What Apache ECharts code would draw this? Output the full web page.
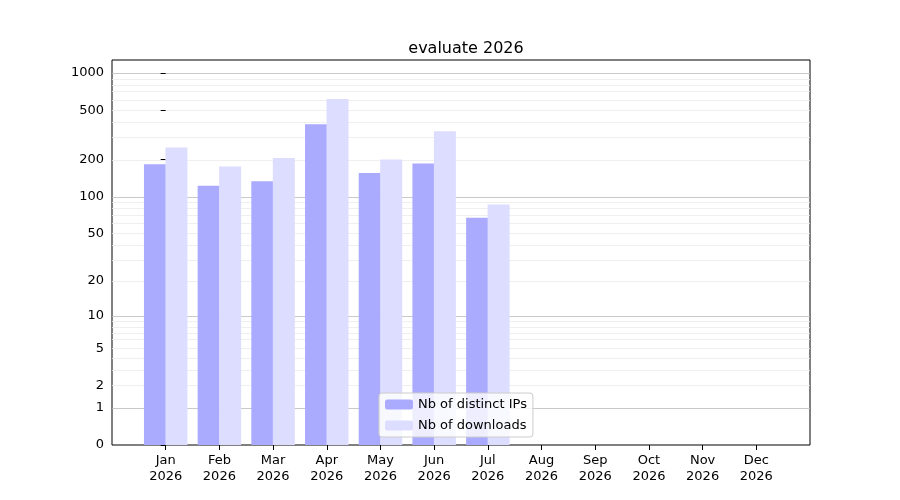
<!DOCTYPE html>
<html>
<head>
<meta charset="utf-8">
<title>evaluate 2026</title>
<script src="https://cdn.jsdelivr.net/npm/echarts@6/dist/echarts.min.js"></script>
</head>
<body style="margin:0">
<div id="main" style="width:900px;height:500px;"></div>
<script>
// data
var months = ['Jan', 'Feb', 'Mar', 'Apr', 'May', 'Jun', 'Jul', 'Aug', 'Sep', 'Oct', 'Nov', 'Dec'];
var year = '2026';
var distinctIps = [183, 122, 133, 385, 155, 185, 67];
var downloads = [250, 175, 205, 615, 200, 338, 86];
var yTicks = [0, 1, 2, 5, 10, 20, 50, 100, 200, 500, 1000];
var majorLines = [1, 10, 100, 1000];
var minorLines = [2, 3, 4, 5, 6, 7, 8, 9, 20, 30, 40, 50, 60, 70, 80, 90, 200, 300, 400, 500, 600, 700, 800, 900];

// y axis is log10(1 + v)
function tr(v) { return Math.log10(1 + v); }

var chart = echarts.init(document.getElementById('main'));

var grid = [];
majorLines.forEach(function (v) {
	grid.push({ yAxis: tr(v), lineStyle: { color: '#bbbbbb', width: 0.8, type: 'solid' } });
});
minorLines.forEach(function (v) {
	grid.push({ yAxis: tr(v), lineStyle: { color: '#ebebeb', width: 0.8, type: 'solid' } });
});

var option = {
	backgroundColor: '#fff',
	animation: false,
	title: {
		text: 'evaluate ' + year,
		left: 461, top: 36, textAlign: 'center',
		textStyle: { fontFamily: 'DejaVu Sans', fontSize: 16, fontWeight: 'normal', color: '#000' }
	},
	legend: {
		left: 379, top: 393, orient: 'vertical',
		itemWidth: 28, itemHeight: 10, itemGap: 8,
		padding: [5, 6, 5, 6],
		borderColor: '#cccccc', borderWidth: 1, borderRadius: 3,
		backgroundColor: 'rgba(255,255,255,0.8)',
		textStyle: { fontFamily: 'DejaVu Sans', fontSize: 13, color: '#000' }
	},
	grid: { left: 112, right: 90, top: 60, bottom: 55, show: true, borderColor: '#000', borderWidth: 1 },
	xAxis: {
		type: 'value', min: -1, max: 12, interval: 1,
		splitLine: { show: false },
		axisLine: { show: false },
		axisTick: { show: true, customValues: months.map(function (m, i) { return i; }), lineStyle: { color: '#000' } },
		axisLabel: {
			customValues: months.map(function (m, i) { return i; }),
			formatter: function (v) { return months[v] + '\n' + year; },
			fontFamily: 'DejaVu Sans', fontSize: 13, color: '#000', lineHeight: 16
		}
	},
	yAxis: {
		type: 'value', min: 0, max: 3.105,
		splitLine: { show: false },
		axisLine: { show: false },
		axisTick: { show: true, customValues: yTicks.map(tr), lineStyle: { color: '#000' } },
		axisLabel: {
			customValues: yTicks.map(tr),
			formatter: function (v) {
				for (var i = 0; i < yTicks.length; i++) {
					if (Math.abs(tr(yTicks[i]) - v) < 1e-6) return String(yTicks[i]);
				}
				return '';
			},
			fontFamily: 'DejaVu Sans', fontSize: 13, color: '#000'
		}
	},
	series: [{
		name: 'Nb of distinct IPs',
		type: 'bar', barWidth: 22, barGap: '-100%',
		itemStyle: { color: '#aaaaff' },
		data: distinctIps.map(function (v, i) { return [i - 0.2, tr(v)]; }),
		markLine: { silent: true, symbol: 'none', label: { show: false }, data: grid, z: 0 }
	}, {
		name: 'Nb of downloads',
		type: 'bar', barWidth: 22, barGap: '-100%',
		itemStyle: { color: '#ddddff' },
		data: downloads.map(function (v, i) { return [i + 0.2, tr(v)]; })
	}]
};
chart.setOption(option);
</script>
</body>
</html>
